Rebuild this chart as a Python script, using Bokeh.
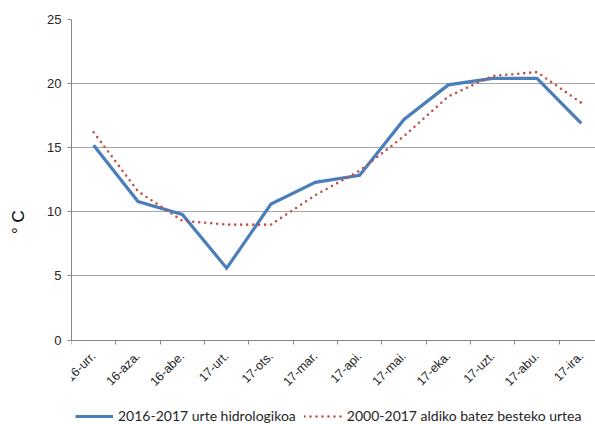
import math
from bokeh.plotting import figure
from bokeh.models import Range1d, FixedTicker, Legend, LegendItem
from bokeh.embed import file_html
from bokeh.resources import INLINE

months = ["16-urr.", "16-aza.", "16-abe.", "17-urt.", "17-ots.", "17-mar.",
          "17-api.", "17-mai.", "17-eka.", "17-uzt.", "17-abu.", "17-ira."]
hydro_2016_2017 = [15.2, 10.8, 9.8, 5.6, 10.6, 12.3, 12.85, 17.2, 19.9, 20.4, 20.4, 16.9]
mean_2000_2017 = [16.2, 11.6, 9.3, 9.0, 9.0, 11.3, 13.2, 15.9, 19.0, 20.6, 20.9, 18.5]
y_ticks = [0, 5, 10, 15, 20, 25]

xs = [i + 0.5 for i in range(len(months))]

# frame extends to the bottom of the page so that the rotated labels and the
# legend sit inside it; the value axis itself is bounded to 0..25
p = figure(frame_width=524, frame_height=405, output_backend="svg", toolbar_location=None,
           x_range=Range1d(0, 11.82), y_range=Range1d(-6.59, 25),
           min_border_top=19, min_border_left=71, min_border_right=0, min_border_bottom=0)
p.outline_line_color = None
p.background_fill_color = "white"
p.border_fill_color = "white"

# y axis
p.yaxis.bounds = (0, 25)
p.yaxis.ticker = FixedTicker(ticks=y_ticks)
p.yaxis.axis_label = "° C"
p.yaxis.axis_label_text_font = "Liberation Sans"
p.yaxis.axis_label_text_font_size = "17px"
p.yaxis.axis_label_text_font_style = "normal"
p.yaxis.axis_label_text_color = "black"
p.yaxis.axis_label_standoff = 16
p.yaxis.major_label_text_font = "Liberation Sans"
p.yaxis.major_label_text_font_size = "13px"
p.yaxis.major_label_text_color = "#262626"
p.yaxis.major_label_standoff = 6
p.yaxis.major_tick_out = 4
p.yaxis.major_tick_in = 0
p.yaxis.minor_tick_line_color = None
p.yaxis.axis_line_color = "#868686"
p.yaxis.major_tick_line_color = "#868686"

# x axis at value 0: labels at category centres, tick marks (minor) at boundaries
p.xaxis.fixed_location = 0
p.xaxis.ticker = FixedTicker(ticks=xs, minor_ticks=list(range(0, 12)))
p.xaxis.major_label_overrides = {x: m for x, m in zip(xs, months)}
p.xaxis.major_tick_line_color = None
p.xaxis.minor_tick_line_color = "#868686"
p.xaxis.minor_tick_out = 4
p.xaxis.minor_tick_in = 0
p.xaxis.axis_line_color = "#868686"
p.xaxis.major_label_orientation = math.pi / 4
p.xaxis.major_label_text_font = "Liberation Sans"
p.xaxis.major_label_text_font_size = "12.5px"
p.xaxis.major_label_text_color = "#262626"
p.xaxis.major_label_standoff = 8

p.xgrid.visible = False
p.ygrid.ticker = FixedTicker(ticks=y_ticks)
p.ygrid.grid_line_color = "#A6A6A6"
p.ygrid.grid_line_width = 1

r1 = p.line(xs, hydro_2016_2017, line_color="#4A7EBB", line_width=3.2, line_join="miter")
r2 = p.line(xs, mean_2000_2017, line_color="#C0504D", line_width=2.6, line_dash="0 6",
            line_cap="round")

legend = Legend(items=[LegendItem(label="2016-2017 urte hidrologikoa", renderers=[r1]),
                       LegendItem(label="2000-2017 aldiko batez besteko urtea", renderers=[r2])],
                orientation="horizontal", location=(4, 0),
                glyph_width=38, glyph_height=14, label_height=16, label_standoff=5, spacing=8,
                padding=0, margin=0,
                label_text_font="Lato", label_text_font_size="14px",
                label_text_color="#262626",
                border_line_color=None, background_fill_color=None)
p.add_layout(legend)

open("out.html", "w").write(file_html(p, INLINE))
